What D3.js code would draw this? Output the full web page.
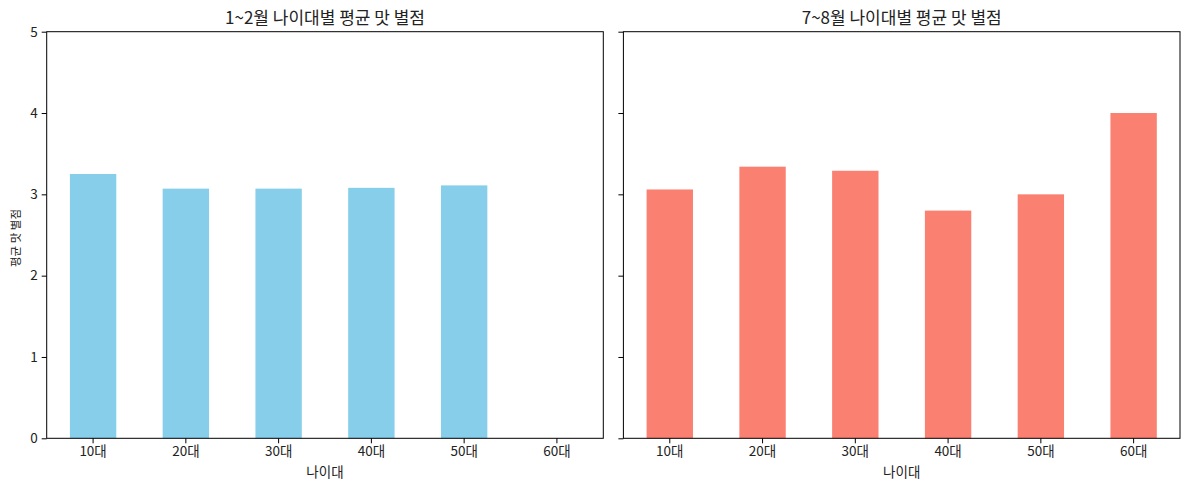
<!DOCTYPE html>
<html><head><meta charset="utf-8">
<script src="https://cdn.jsdelivr.net/npm/d3@7"></script>
<style>body{margin:0;background:#fff}svg{display:block}text{font-family:"Noto Sans CJK KR","Noto Sans",sans-serif;fill:#222}</style>
</head><body>
<svg id="c" width="1189" height="490"></svg>
<script>
const categories = ["10대","20대","30대","40대","50대","60대"];
const winterValues = [3.25, 3.07, 3.07, 3.08, 3.11, null];
const summerValues = [3.06, 3.34, 3.29, 2.80, 3.00, 4.00];
const yTicks = [0,1,2,3,4,5];
const titles = ["1~2월 나이대별 평균 맛 별점","7~8월 나이대별 평균 맛 별점"];
const colors = ["#87CEEB","#FA8072"];
const xLabel = "나이대", yLabel = "평균 맛 별점";

(function(){
const svg = d3.select("#c");
const plotTop = 31.7, plotBottom = 438.3;
const panels = [{x0:46.7, x1:603.3, vals:winterValues, showY:true},{x0:623.4, x1:1180, vals:summerValues, showY:false}];
const y = d3.scaleLinear().domain([0,5]).range([plotBottom, plotTop]);

panels.forEach((p,k)=>{
  const x = d3.scaleBand().domain(categories).range([p.x0,p.x1]).paddingInner(0.5).paddingOuter(0.25);
  const g = svg.append("g");
  g.selectAll("rect").data(categories.map((c,i)=>({c,v:p.vals[i]})).filter(d=>d.v!=null))
    .enter().append("rect")
    .attr("x",d=>x(d.c)).attr("width",x.bandwidth())
    .attr("y",d=>y(d.v)).attr("height",d=>y(0)-y(d.v))
    .attr("fill",colors[k]);
  const xa = g.append("g").attr("transform",`translate(0,${plotBottom})`)
    .call(d3.axisBottom(x).tickSize(5).tickPadding(3));
  xa.select(".domain").remove();
  xa.selectAll("text").attr("font-size",13.5).style("font-family",'"Noto Sans CJK KR"').attr("fill","#222");
  const ya = g.append("g").attr("transform",`translate(${p.x0},0)`)
    .call(d3.axisLeft(y).tickValues(yTicks).tickFormat(p.showY?d3.format("d"):"").tickSize(5).tickPadding(4));
  ya.select(".domain").remove();
  ya.selectAll("text").attr("font-size",13.5).style("font-family",'"Noto Sans CJK KR"').attr("fill","#222");
  g.append("rect").attr("x",p.x0).attr("y",plotTop).attr("width",p.x1-p.x0).attr("height",plotBottom-plotTop)
    .attr("fill","none").attr("stroke","#000").attr("stroke-width",1);
  g.append("text").attr("x",(p.x0+p.x1)/2).attr("y",23.5).attr("text-anchor","middle")
    .attr("font-size",17).text(titles[k]);
  g.append("text").attr("x",(p.x0+p.x1)/2).attr("y",477).attr("text-anchor","middle")
    .attr("font-size",13.5).text(xLabel);
  if(p.showY){
    g.append("text").attr("transform",`translate(20,${(plotTop+plotBottom)/2+3}) rotate(-90)`)
      .attr("text-anchor","middle").attr("font-size",11.5).text(yLabel);
  }
});
})();
</script></body></html>
